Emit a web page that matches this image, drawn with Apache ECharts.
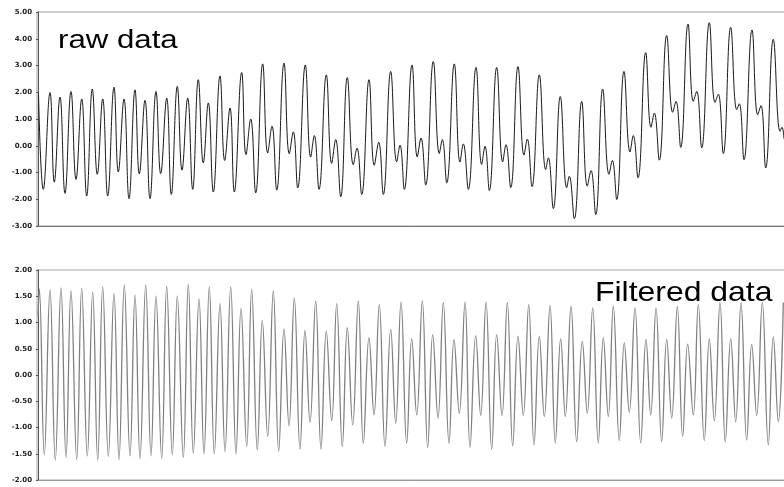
<!DOCTYPE html>
<html>
<head>
<meta charset="utf-8">
<script src="https://cdn.jsdelivr.net/npm/echarts@6/dist/echarts.min.js"></script>
<style>
html,body{margin:0;padding:0;background:#fff;}
#c{width:784px;height:487px;}
</style>
</head>
<body>
<div id="c"></div>
<script>
// raw data: sample positions and values at turning points
var rawT = [0.5,5.3,12.0,16.3,22.0,27.0,33.0,38.0,43.7,48.7,54.3,59.3,64.7,69.7,76.0,80.3,86.0,91.0,97.0,101.3,107.0,112.0,118.0,122.7,128.7,133.3,139.3,144.0,149.7,154.7,160.3,
165.3,170.3,175.3,182.0,186.7,192.0,196.3,203.7,208.0,212.7,217.7,224.7,229.7,234.0,238.7,246.0,251.3,255.3,259.7,267.3,272.7,276.3,281.0,288.3,293.7,297.7,302.7,309.3,315.3,319.0,323.7,331.0,336.3,340.7,345.3,
352.7,358.7,362.0,366.3,374.0,379.3,383.0,387.7,395.3,401.3,404.3,408.7,416.3,422.0,425.3,430.3,438.0,443.7,447.0,451.3,458.7,464.7,468.0,472.7,480.0,486.0,489.3,494.0,501.3,507.7,510.3,515.3,522.3,528.7,531.3,536.3,
543.7,549.3,553.0,557.7,564.7,571.0,574.3,578.7,586.0,592.0,595.3,600.0,607.7,613.0,616.3,621.3,628.7,634.7,638.0,642.7,650.0,655.3,658.7,663.7,671.3,677.0,680.3,685.3,692.7,698.7,701.3,706.0,714.0,719.7,723.0,727.7,735.3,742.0,744.0,746.0];
var rawV = [1.95,-1.63,1.99,-1.36,1.82,-1.78,2.03,-1.26,1.75,-1.88,2.12,-1.07,1.75,-1.88,2.19,-0.98,1.75,-1.98,2.09,-1.05,1.70,-1.98,2.03,-1.04,1.78,-1.82,2.22,-0.91,1.78,-1.63,2.47,
-0.64,1.60,-1.73,2.61,-0.55,1.41,-1.73,2.74,-0.33,1.00,-1.76,3.06,-0.27,0.73,-1.66,3.09,-0.30,0.52,-1.58,3.02,-0.42,0.38,-1.63,2.65,-0.66,0.23,-1.91,2.55,-0.71,-0.09,-1.82,2.47,-0.73,0.13,-1.82,
2.78,-0.60,0.02,-1.63,3.02,-0.42,0.29,-1.47,3.15,-0.29,0.23,-1.39,3.06,-0.61,0.07,-1.63,2.93,-0.70,-0.02,-1.67,2.93,-0.60,0.04,-1.57,2.96,-0.35,0.25,-1.53,2.65,-0.89,-0.45,-2.35,1.84,-1.57,-1.14,-2.73,
1.66,-1.51,-0.93,-2.57,2.12,-1.07,-0.55,-2.01,2.78,-0.23,0.38,-1.20,3.48,0.69,1.22,-0.54,4.12,1.25,1.66,-0.06,4.55,1.66,2.03,-0.08,4.60,1.62,1.93,-0.29,4.43,1.35,1.57,-0.52,4.33,1.16,1.50,-0.83,3.98,0.54,0.69,0.25];

// filtered data: sample positions and values at turning points
var filtT = [0,1.3,6.3,12.0,17.3,23.0,28.0,33.0,38.7,43.7,49.3,54.7,59.7,64.7,70.3,76.0,81.0,86.3,92.0,97.0,102.0,107.7,113.0,118.0,123.7,128.7,134.3,139.3,145.3,150.3,155.3,161.0,
166.0,171.3,176.3,182.0,187.0,192.7,198.0,203.0,208.7,213.7,219.3,224.3,229.7,235.3,240.7,246.0,251.0,256.3,262.0,267.0,272.0,277.7,283.0,288.3,293.7,298.7,304.3,309.3,314.7,320.3,325.3,331.0,336.0,341.3,347.0,
352.7,357.7,363.0,368.7,373.7,378.7,384.3,389.7,394.7,400.0,405.3,411.0,416.0,421.3,427.0,432.0,437.7,442.7,448.0,453.7,458.7,464.0,469.3,474.7,480.0,485.3,490.7,496.0,501.3,506.3,512.0,517.3,522.7,527.3,533.0,
538.7,544.3,549.3,554.7,560.3,565.3,570.3,575.3,581.3,586.3,591.3,597.0,602.7,608.0,612.7,618.0,623.7,628.7,633.7,639.3,644.7,649.7,655.3,660.3,666.3,671.3,676.3,682.0,687.3,692.7,697.7,703.0,708.7,713.7,718.7,724.3,730.3,735.3,740.3,745.3];
var filtV = [1.12,1.64,-1.52,1.62,-1.62,1.66,-1.57,1.60,-1.61,1.65,-1.54,1.58,-1.62,1.68,-1.55,1.55,-1.61,1.71,-1.54,1.52,-1.59,1.71,-1.54,1.50,-1.59,1.69,-1.52,1.50,-1.57,1.73,-1.49,1.45,
-1.50,1.68,-1.50,1.36,-1.46,1.68,-1.50,1.27,-1.36,1.63,-1.43,1.04,-1.17,1.60,-1.45,0.88,-0.97,1.47,-1.41,0.85,-0.90,1.41,-1.41,0.83,-0.87,1.36,-1.36,0.90,-0.95,1.41,-1.30,0.71,-0.76,1.34,-1.36,
0.87,-0.92,1.39,-1.30,0.69,-0.76,1.41,-1.38,0.77,-0.82,1.38,-1.30,0.68,-0.73,1.39,-1.38,0.75,-0.77,1.39,-1.41,0.77,-0.77,1.38,-1.35,0.74,-0.77,1.34,-1.33,0.74,-0.79,1.32,-1.29,0.69,-0.79,1.31,
-1.27,0.64,-0.73,1.28,-1.29,0.71,-0.79,1.31,-1.25,0.61,-0.71,1.28,-1.29,0.68,-0.76,1.28,-1.27,0.68,-0.82,1.30,-1.17,0.59,-0.76,1.34,-1.25,0.69,-0.87,1.38,-1.27,0.69,-0.89,1.38,-1.24,0.58,-0.77,1.38,-1.33,0.73,-0.89,1.38];

var topTicks = {min: -3, max: 5, interval: 1};
var botTicks = {min: -2, max: 2, interval: 0.5};
var titles = ['raw data', 'Filtered data'];

function zip(t, v) {
  var out = [];
  for (var i = 0; i < Math.min(t.length, v.length); i++) out.push([t[i], v[i]]);
  return out;
}

var chart = echarts.init(document.getElementById('c'), null, {renderer: 'canvas'});

var labelStyle = {
  fontFamily: 'DejaVu Sans', fontWeight: 'bold', fontSize: 7, color: '#222',
  margin: 5, padding: [6, 0, 0, 0],
  formatter: function (v) { return v.toFixed(2); }
};

function yAx(idx, ticks) {
  return {
    type: 'value', gridIndex: idx, min: ticks.min, max: ticks.max, interval: ticks.interval,
    axisLine: {show: true, lineStyle: {color: '#555', width: 1}},
    axisTick: {show: true, length: 2, lineStyle: {color: '#555'}},
    splitLine: {show: false},
    axisLabel: labelStyle
  };
}
function xAx(idx, col) {
  return {
    type: 'value', gridIndex: idx, min: -1, max: 760,
    axisLine: {show: true, onZero: false, lineStyle: {color: col, width: 1}},
    axisTick: {show: false}, axisLabel: {show: false}, splitLine: {show: false}
  };
}

chart.setOption({
  animation: false,
  backgroundColor: '#fff',
  grid: [
    {left: 37, top: 12, width: 761, height: 214, show: true, borderColor: '#a0a0a0', borderWidth: 1,
     containLabel: false, outerBoundsMode: 'none'},
    {left: 37, top: 270, width: 761, height: 210, show: true, borderColor: '#a8a8a8', borderWidth: 1,
     containLabel: false, outerBoundsMode: 'none'}
  ],
  xAxis: [xAx(0, '#777'), xAx(1, '#999')],
  yAxis: [yAx(0, topTicks), yAx(1, botTicks)],
  series: [
    {type: 'line', xAxisIndex: 0, yAxisIndex: 0, data: zip(rawT, rawV), showSymbol: false, smooth: 0.45,
     lineStyle: {color: '#1a1a1a', width: 1}},
    {type: 'line', xAxisIndex: 1, yAxisIndex: 1, data: zip(filtT, filtV), showSymbol: false, smooth: 0.45,
     lineStyle: {color: '#808080', width: 1.3}}
  ],
  graphic: [
    {type: 'text', x: 58, y: 41, scaleX: 1.2, z: 100,
     style: {text: titles[0], font: '26px "Liberation Sans"', fill: '#000', align: 'left', verticalAlign: 'middle'}},
    {type: 'text', x: 595, y: 293, scaleX: 1.14, z: 100,
     style: {text: titles[1], font: '28px "Liberation Sans"', fill: '#000', align: 'left', verticalAlign: 'middle'}}
  ]
});
</script>
</body>
</html>
